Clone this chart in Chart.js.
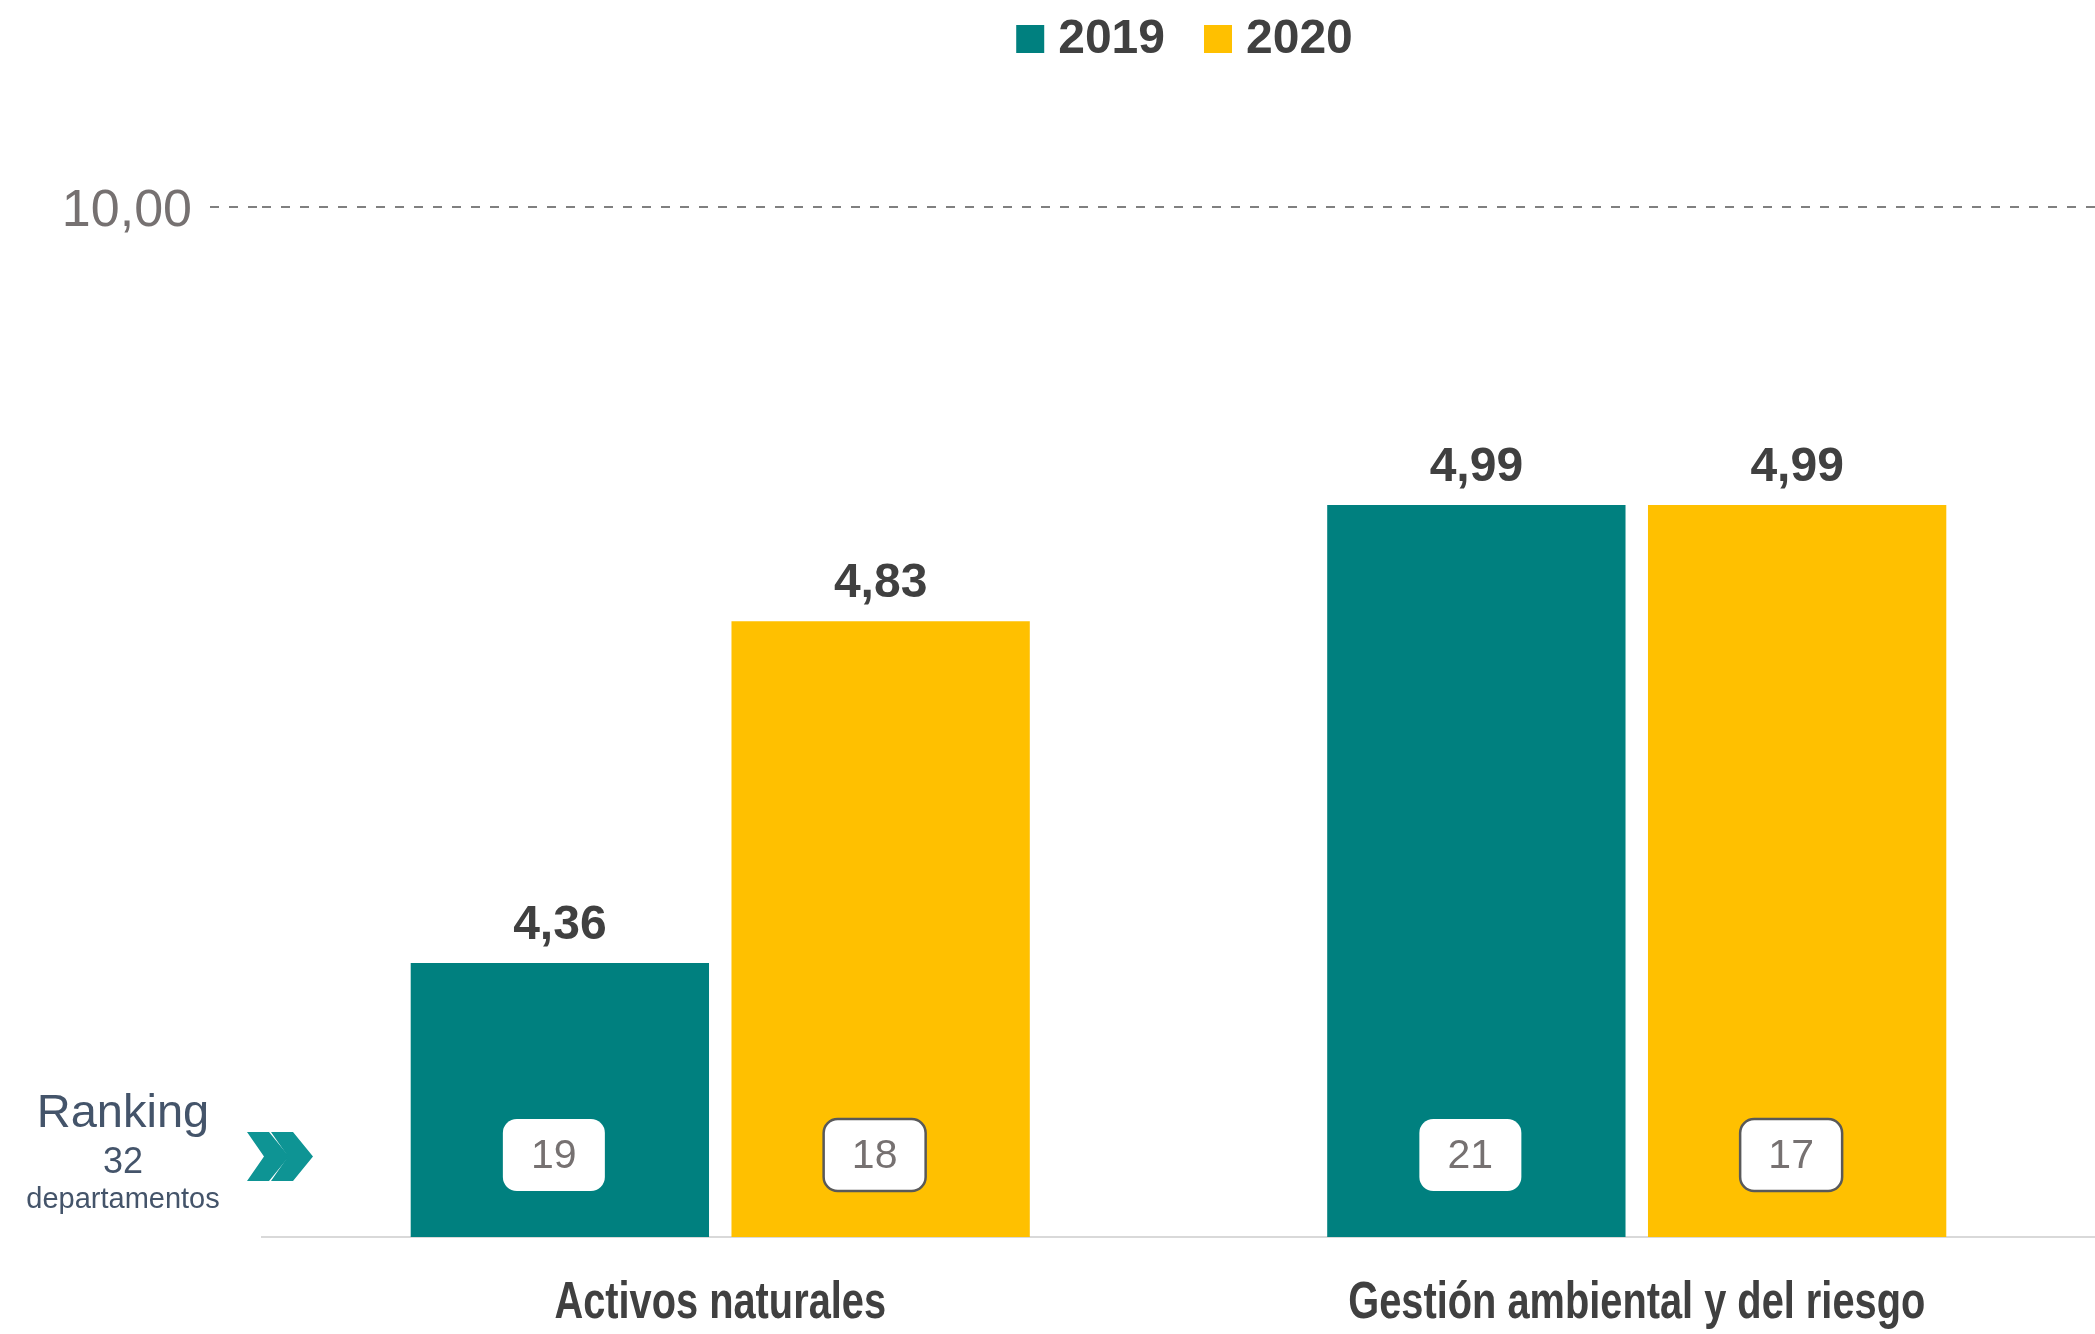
<!DOCTYPE html>
<html>
<head>
<meta charset="utf-8">
<script src="https://cdn.jsdelivr.net/npm/chart.js@4.4.0/dist/chart.umd.min.js"></script>
<style>
html, body { margin: 0; padding: 0; background: #fff; }
#wrap { width: 2095px; height: 1334px; position: relative; }
</style>
</head>
<body>
<div id="wrap"><canvas id="chart"></canvas></div>
<script>
// data
var categories = ['Activos naturales', 'Gestión ambiental y del riesgo'];
var seriesNames = ['2019', '2020'];
var values2019 = [4.36, 4.99];
var values2020 = [4.83, 4.99];
var rank2019 = [19, 21];
var rank2020 = [18, 17];
var yTickLabels = ['10,00'];
var rankTitle = ['Ranking', '32', 'departamentos'];

var teal = '#00807f';
var gold = '#ffc000';
var darkText = '#404040';
var greyText = '#767171';
var slate = '#44546a';

function fmt(v) {
    return v.toFixed(2).replace('.', ',');
}

// legend drawn by hand so the spacing matches the original
var legendPlugin = {
    id: 'handLegend',
    afterDraw: function (chart) {
        var ctx = chart.ctx;
        var area = chart.chartArea;
        var box = 28, gapText = 14, gapItem = 39;
        ctx.save();
        ctx.font = 'bold 48px "Liberation Sans", Arial, sans-serif';
        var widths = chart.data.datasets.map(function (ds) {
            return box + gapText + ctx.measureText(ds.label).width;
        });
        var total = widths.reduce(function (a, b) { return a + b; }, 0) + gapItem * (widths.length - 1);
        var x = (area.left + area.right) / 2 - total / 2 + 6;
        var cy = 39;
        chart.data.datasets.forEach(function (ds, i) {
            ctx.fillStyle = ds.backgroundColor;
            ctx.fillRect(x, cy - box / 2, box, box);
            ctx.fillStyle = darkText;
            ctx.textAlign = 'left';
            ctx.textBaseline = 'middle';
            ctx.fillText(ds.label, x + box + gapText, cy + 1);
            x += widths[i] + gapItem;
        });
        ctx.restore();
    }
};

// category names, squeezed sideways like the narrow font of the original
var categoryLabelPlugin = {
    id: 'narrowLabels',
    afterDraw: function (chart) {
        var ctx = chart.ctx;
        var xs = chart.scales.x;
        var base = chart.chartArea.bottom + 81;
        ctx.save();
        ctx.font = 'bold 52px "Liberation Sans", Arial, sans-serif';
        ctx.fillStyle = darkText;
        ctx.textAlign = 'center';
        ctx.textBaseline = 'alphabetic';
        chart.data.labels.forEach(function (lab, i) {
            var px = xs.getPixelForTick(i);
            ctx.save();
            ctx.translate(px, base);
            ctx.scale(0.765, 1);
            ctx.fillText(lab, 0, 0);
            ctx.restore();
        });
        ctx.restore();
    }
};

// value labels above bars and ranking boxes inside them
var barTextPlugin = {
    id: 'barText',
    afterDatasetsDraw: function (chart) {
        var ctx = chart.ctx;
        var area = chart.chartArea;
        var ranks = [rank2019, rank2020];
        ctx.save();
        chart.data.datasets.forEach(function (ds, di) {
            var meta = chart.getDatasetMeta(di);
            meta.data.forEach(function (bar, i) {
                ctx.font = 'bold 48px "Liberation Sans", Arial, sans-serif';
                ctx.fillStyle = darkText;
                ctx.textAlign = 'center';
                ctx.textBaseline = 'alphabetic';
                ctx.fillText(fmt(ds.data[i]), bar.x, bar.y - 24);

                var w = 102, h = 72;
                var cx = bar.x - 6, cy = area.bottom - 82;
                ctx.beginPath();
                ctx.roundRect(cx - w / 2, cy - h / 2, w, h, 14);
                ctx.fillStyle = '#ffffff';
                ctx.fill();
                if (di === 1) {
                    ctx.lineWidth = 2.5;
                    ctx.strokeStyle = '#595959';
                    ctx.stroke();
                }
                ctx.font = '41px "Liberation Sans", Arial, sans-serif';
                ctx.fillStyle = greyText;
                ctx.textBaseline = 'middle';
                ctx.fillText(String(ranks[di][i]), cx, cy + 2);
            });
        });
        ctx.restore();
    }
};

// "Ranking 32 departamentos" and the double chevron on the left
var rankingPlugin = {
    id: 'rankingNote',
    afterDraw: function (chart) {
        var ctx = chart.ctx;
        var b = chart.chartArea.bottom;
        ctx.save();
        ctx.fillStyle = slate;
        ctx.textAlign = 'center';
        ctx.textBaseline = 'alphabetic';
        ctx.font = '47px "Liberation Sans", Arial, sans-serif';
        ctx.fillText(rankTitle[0], 123, b - 110);
        ctx.font = '36px "Liberation Sans", Arial, sans-serif';
        ctx.fillText(rankTitle[1], 123, b - 64);
        ctx.font = '29px "Liberation Sans", Arial, sans-serif';
        ctx.fillText(rankTitle[2], 123, b - 29);

        ctx.fillStyle = '#0e9494';
        var top = b - 105, bot = b - 56, mid = (top + bot) / 2;
        [247, 271].forEach(function (x0) {
            ctx.beginPath();
            ctx.moveTo(x0, top);
            ctx.lineTo(x0 + 22, top);
            ctx.lineTo(x0 + 42, mid);
            ctx.lineTo(x0 + 22, bot);
            ctx.lineTo(x0, bot);
            ctx.lineTo(x0 + 17, mid);
            ctx.closePath();
            ctx.fill();
        });
        ctx.restore();
    }
};

var ctx = document.getElementById('chart').getContext('2d');
new Chart(ctx, {
    type: 'bar',
    data: {
        labels: categories,
        datasets: [
            { label: seriesNames[0], data: values2019, backgroundColor: teal },
            { label: seriesNames[1], data: values2020, backgroundColor: gold }
        ]
    },
    options: {
        responsive: true,
        maintainAspectRatio: false,
        devicePixelRatio: 1,
        animation: false,
        categoryPercentage: 0.7,
        barPercentage: 0.93,
        layout: { padding: { top: 207, left: 0, right: 0, bottom: 0 } },
        plugins: {
            legend: { display: false },
            tooltip: { enabled: false }
        },
        scales: {
            x: {
                grid: { display: false, drawTicks: false },
                border: { display: true, color: '#d9d9d9', width: 2 },
                ticks: { display: false },
                afterFit: function (scale) { scale.height = 97; }
            },
            y: {
                min: 3.983,
                max: 5.4,
                afterBuildTicks: function (scale) {
                    scale.ticks = [{ value: scale.max }];
                },
                afterFit: function (scale) { scale.width = 262; },
                grid: {
                    color: '#808080',
                    lineWidth: 2,
                    drawTicks: true,
                    tickLength: 52,
                    tickBorderDash: [9, 10]
                },
                border: { display: false, dash: [9, 10] },
                ticks: {
                    padding: 18,
                    labelOffset: 5,
                    color: greyText,
                    font: { family: '"Liberation Sans", Arial, sans-serif', size: 52 },
                    callback: function (value, index) { return yTickLabels[index]; }
                }
            }
        }
    },
    plugins: [legendPlugin, categoryLabelPlugin, barTextPlugin, rankingPlugin]
});
</script>
</body>
</html>
